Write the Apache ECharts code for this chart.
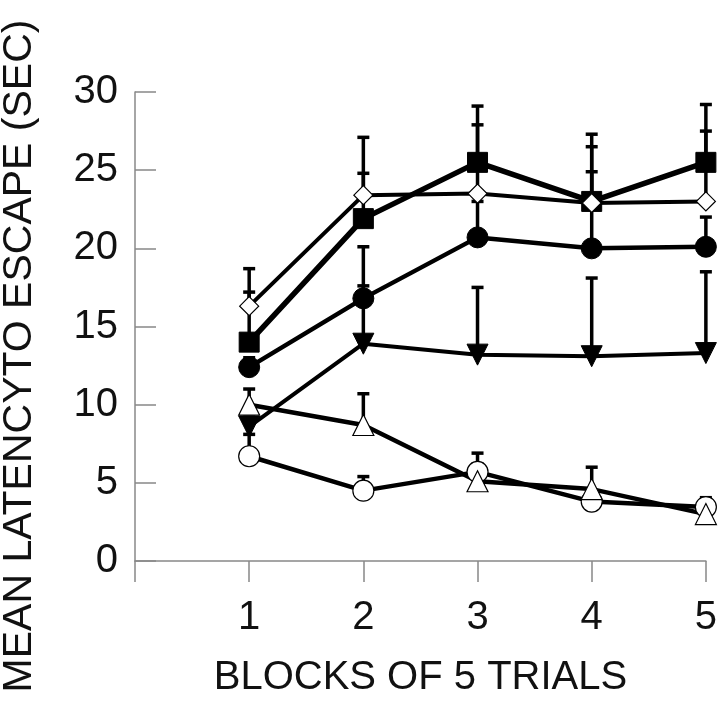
<!DOCTYPE html>
<html>
<head>
<meta charset="utf-8">
<script src="https://cdn.jsdelivr.net/npm/echarts@6/dist/echarts.min.js"></script>
<style>
html,body{margin:0;padding:0;background:#fff;}
#chart{width:720px;height:703px;}
</style>
</head>
<body>
<div id="chart"></div>
<script>
// ---- data ----
const blocks = [1, 2, 3, 4, 5];
const xTickLabels = ['', '1', '2', '3', '4', '5'];
const yTickLabels = ['0', '5', '10', '15', '20', '25', '30'];
const xTitle = 'BLOCKS OF 5 TRIALS';
const yTitle = 'MEAN LATENCYTO ESCAPE (SEC)';

const squareMean   = [14.0, 21.9, 25.5, 23.0, 25.5];
const squareUpper  = [17.2, 24.8, 29.1, 27.3, 29.2];

const diamondMean  = [16.3, 23.4, 23.5, 22.9, 23.0];
const diamondUpper = [18.7, 27.1, 27.9, 26.5, 27.5];

const dotMean      = [12.4, 16.8, 20.7, 20.0, 20.1];
const dotUpper     = [13.0, 20.1, 23.0, 24.9, 22.0];

const downTriMean  = [8.6, 13.9, 13.2, 13.1, 13.3];
const downTriUpper = [9.2, 17.6, 17.5, 18.1, 18.5];

const upTriMean    = [10.0, 8.7, 5.1, 4.6, 3.0];
const upTriUpper   = [11.0, 10.7, 6.9, 6.0, 3.5];

const ringMean     = [6.7, 4.5, 5.7, 3.8, 3.45];
const ringUpper    = [8.1, 5.4, 6.2, 4.5, 4.05];

const FONT = '"Liberation Sans", Arial, sans-serif';

function pairs(ys) { return blocks.map((b, i) => [b, ys[i]]); }
function errData(means, uppers) { return blocks.map((b, i) => [b, means[i], uppers[i]]); }

function errSeries(means, uppers) {
  return {
    type: 'custom',
    z: 1,
    silent: true,
    data: errData(means, uppers),
    renderItem: function (params, api) {
      const p0 = api.coord([api.value(0), api.value(1)]);
      const p1 = api.coord([api.value(0), api.value(2)]);
      const hw = 6;
      return {
        type: 'group',
        children: [
          { type: 'line', shape: { x1: p0[0], y1: p0[1], x2: p1[0], y2: p1[1] },
            style: { stroke: '#000', lineWidth: 3.5 } },
          { type: 'line', shape: { x1: p1[0] - hw, y1: p1[1], x2: p1[0] + hw, y2: p1[1] },
            style: { stroke: '#000', lineWidth: 3.5 } }
        ]
      };
    }
  };
}

function lineSeries(name, ys, symbol, size, filled, lw, rotate) {
  return {
    name: name,
    type: 'line',
    z: 3,
    data: pairs(ys),
    symbol: symbol,
    symbolSize: size,
    symbolRotate: rotate || 0,
    showAllSymbol: true,
    lineStyle: { color: '#000', width: lw },
    itemStyle: filled
      ? { color: '#000', borderColor: '#000', borderWidth: 1 }
      : { color: '#fff', borderColor: '#000', borderWidth: 1.2 },
    emphasis: { disabled: true },
    animation: false
  };
}

const chart = echarts.init(document.getElementById('chart'), null, { renderer: 'canvas' });
chart.setOption({
  animation: false,
  backgroundColor: '#fff',
  grid: { left: 135, right: 13, top: 92, bottom: 130, containLabel: false },
  graphic: [{
    type: 'text',
    x: 20, y: 356,
    rotation: Math.PI / 2,
    style: { text: yTitle, fontFamily: FONT, fontSize: 41, fill: '#111',
      align: 'center', verticalAlign: 'middle' }
  }],
  xAxis: {
    type: 'value',
    min: 0, max: 5, interval: 1,
    name: xTitle,
    nameLocation: 'middle',
    nameGap: 97,
    nameTextStyle: { fontFamily: FONT, fontSize: 40, color: '#111' },
    axisLine: { lineStyle: { color: '#888', width: 1.5 } },
    axisTick: { inside: false, length: 21, lineStyle: { color: '#888', width: 1.5 } },
    axisLabel: { margin: 37, fontFamily: FONT, fontSize: 40, color: '#111',
      formatter: function (v) { return xTickLabels[Math.round(v)]; } },
    splitLine: { show: false }
  },
  yAxis: {
    type: 'value',
    min: 0, max: 30, interval: 5,
    axisLine: { show: true, lineStyle: { color: '#888', width: 1.5 } },
    axisTick: { show: true, inside: true, length: 21, lineStyle: { color: '#888', width: 1.5 } },
    axisLabel: { margin: 17, fontFamily: FONT, fontSize: 40, color: '#111',
      formatter: function (v) { return yTickLabels[Math.round(v / 5)]; } },
    splitLine: { show: false }
  },
  series: [
    errSeries(ringMean, ringUpper),
    errSeries(upTriMean, upTriUpper),
    errSeries(downTriMean, downTriUpper),
    errSeries(dotMean, dotUpper),
    errSeries(squareMean, squareUpper),
    errSeries(diamondMean, diamondUpper),
    lineSeries('ring', ringMean, 'circle', 21, false, 4.5),
    lineSeries('upTri', upTriMean, 'triangle', 21, false, 4.5),
    lineSeries('downTri', downTriMean, 'triangle', 21, true, 4, 180),
    lineSeries('dot', dotMean, 'circle', 21, true, 4.5),
    lineSeries('square', squareMean, 'rect', 20, true, 5.5),
    lineSeries('diamond', diamondMean, 'diamond', 19, false, 4)
  ]
});
</script>
</body>
</html>
